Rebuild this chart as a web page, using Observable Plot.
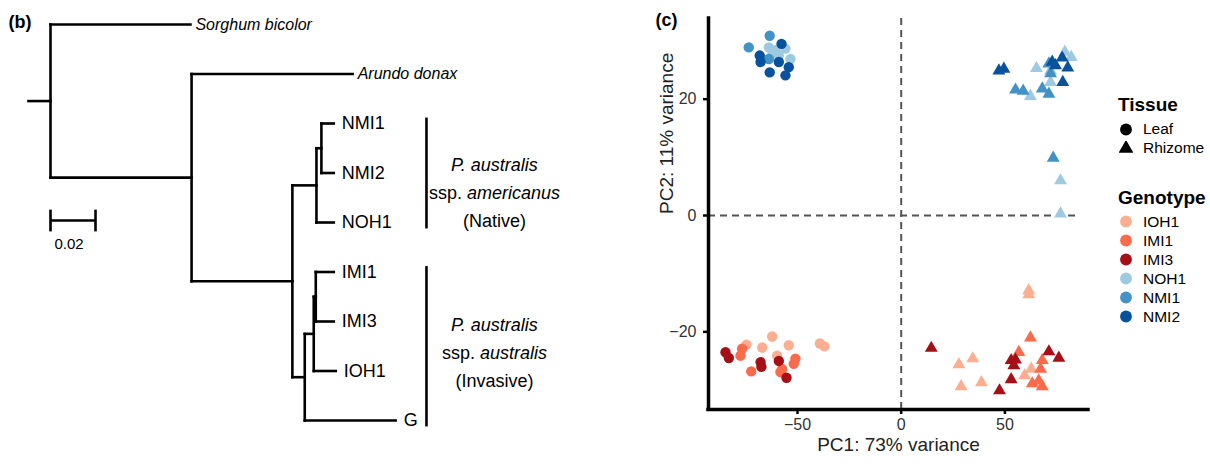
<!DOCTYPE html>
<html><head><meta charset="utf-8">
<script src="https://cdn.jsdelivr.net/npm/d3@7"></script>
<script src="https://cdn.jsdelivr.net/npm/@observablehq/plot@0.6"></script>
<style>
body{margin:0;background:#fff;font-family:"Liberation Sans",Arial,sans-serif;}
#wrap{position:relative;width:1210px;height:464px;overflow:hidden;background:#fff;}
#tree{position:absolute;left:0;top:0;}
#pca{position:absolute;left:640px;top:0;}
#legend{position:absolute;left:1118px;top:90px;color:#000;}
.lt{font-weight:bold;font-size:19px;height:29px;line-height:29px;}
.lr{height:19px;line-height:19px;font-size:15.5px;display:flex;align-items:center;}
.lr svg{margin-right:10px;margin-left:1px;}
.gap{height:25.5px;}
</style></head><body>
<div id="wrap"><div id="tree"></div><div id="pca"></div><div id="legend"></div></div>
<script>
// ---------- Panel (b): phylogenetic tree ----------
const nodeIds      = ["root","Sorghum bicolor","A","Arundo donax","Phrag","Native","NMI12","NMI1","NMI2","NOH1","Inv","InvA","IMI13","IMI1","IMI3","IOH1","G"];
const nodeParents  = [null,"root","root","A","A","Phrag","Native","NMI12","NMI12","Native","Phrag","Inv","InvA","IMI13","IMI13","InvA","Inv"];
const branchLengths= [0.0098,0.0622,0.0627,0.0716,0.0448,0.0107,0.0022,0.0055,0.0055,0.0077,0.0055,0.0040,0.0009,0.0080,0.0080,0.0098,0.0404];
const italicTips   = ["Sorghum bicolor","Arundo donax"];
const cladeLabels  = ["P. australis\nssp. americanus\n(Native)","P. australis\nssp. australis\n(Invasive)"];
const cladeFirstTip= ["NMI1","IMI1"];
const cladeLastTip = ["NOH1","G"];
const cladeLabelY  = [3.34, 6.58];
const scaleBarLength = 0.02;
const scaleBarLabel = "0.02";

// ---------- Panel (c): PCA ----------
const genotypes = ["IOH1","IMI1","IMI3","NOH1","NMI1","NMI2"];
const genotypeColors = ["#fcae91","#fb6a4a","#a50f15","#9ecae1","#4292c6","#08519c"];
const tissues = ["Leaf","Rhizome"];
const xTicks = [-50,0,50];
const yTicks = [-20,0,20];
const pc1Label = "PC1: 73% variance";
const pc2Label = "PC2: 11% variance";

const leaf_IOH1 = [[-74.6,-22.2],[-67,-22.7],[-62.2,-20.8],[-59.8,-24.1],[-54.2,-22.3],[-39.2,-22],[-37,-22.5]];
const leaf_IMI1 = [[-76.7,-22.9],[-77.5,-24.1],[-72.3,-26.8],[-58.2,-26.9],[-57.4,-26.4],[-51,-24.6],[-51.8,-25.5]];
const leaf_IMI3 = [[-84.7,-23.5],[-83.1,-24.5],[-67.8,-25.2],[-67.4,-26],[-59,-25],[-55.3,-27.9]];
const leaf_NOH1 = [[-63.8,28.9],[-60.6,28.4],[-55.8,28.7],[-53.4,26.9],[-59,27.5],[-62,28]];
const leaf_NMI1 = [[-73.5,28.9],[-63.4,30.9],[-63.8,26.9]];
const leaf_NMI2 = [[-68.2,27.5],[-67.8,26.4],[-63.4,24.6],[-57.7,29.5],[-55.8,24.1],[-54.2,25.5],[-59,26.4]];
const rhizome_IOH1 = [[61.5,-12.9],[61.5,-13.6],[27.8,-25.6],[34.5,-24.6],[28.9,-29.4],[38.7,-28.7],[59.5,-27.5],[62.7,-26.4]];
const rhizome_IMI1 = [[62.3,-21],[56.7,-23.5],[68,-24.9],[67.2,-26.4],[63.2,-28.9],[66.3,-28.4],[68,-29.4]];
const rhizome_IMI3 = [[14.5,-22.8],[47.4,-30.1],[53,-28.2],[53,-24.9],[55.1,-24.8],[54.3,-25.8],[71.2,-23.4],[76,-24.5]];
const rhizome_NOH1 = [[65.2,25.3],[62.3,20.5],[72,22.9],[78.9,28.1],[82,27.2],[76.8,6.0],[76.8,0.3],[72,24.9]];
const rhizome_NMI1 = [[55.1,21.6],[58.8,21.4],[68,21.8],[71.2,20.9],[71.2,26.1],[72,24.4],[73.3,9.9]];
const rhizome_NMI2 = [[47.1,24.9],[49.5,25.2],[72.8,26.4],[74.4,25.8],[80.3,25.4],[77.9,22.9],[77.6,27.1]];

const FONT = '"Liberation Sans", Arial, sans-serif';

// ---- build tree layout from the arrays ----
const root = d3.stratify().id(d => d.id).parentId(d => d.parent)(
  nodeIds.map((id, i) => ({id, parent: nodeParents[i], bl: branchLengths[i]})));
root.eachBefore(n => { n.bx = n.parent ? n.parent.bx + n.data.bl : 0; });
root.leaves().forEach((n, i) => { n.by = i; });
root.eachAfter(n => { if (n.children) n.by = (n.children[0].by + n.children[n.children.length - 1].by) / 2; });
const segs = [];
root.each(n => {
  segs.push({x1: n.parent ? n.parent.bx : -n.data.bl, x2: n.bx, y1: n.by, y2: n.by});
  if (n.children) segs.push({x1: n.bx, x2: n.bx, y1: n.children[0].by, y2: n.children[n.children.length - 1].by});
});
const tips = root.leaves().map(n => ({name: n.id, x: n.bx, y: n.by, italic: italicTips.includes(n.id)}));
const tipY = Object.fromEntries(tips.map(t => [t.name, t.y]));
const bracketX = 0.1671, cladeTextX = 0.1973, bracketPad = 0.12;
const clades = cladeLabels.map((label, i) => ({
  label, y1: tipY[cladeFirstTip[i]] - bracketPad, y2: tipY[cladeLastTip[i]] + bracketPad, ly: cladeLabelY[i]}));
const scaleBarY = 3.96;
const sb = [{x1: 0, x2: scaleBarLength, y1: scaleBarY, y2: scaleBarY},
            {x1: 0, x2: 0, y1: scaleBarY - 0.22, y2: scaleBarY + 0.22},
            {x1: scaleBarLength, x2: scaleBarLength, y1: scaleBarY - 0.22, y2: scaleBarY + 0.22}];

const tree = Plot.plot({
  width: 640, height: 464, margin: 0,
  style: {fontFamily: FONT, color: "#000", background: "transparent"},
  x: {domain: [0, 0.2], range: [50, 500], axis: null},
  y: {domain: [0, 8], range: [24, 420], axis: null},
  marks: [
    Plot.link(segs, {x1: "x1", x2: "x2", y1: "y1", y2: "y2", stroke: "#000", strokeWidth: 2.6, strokeLinecap: "square"}),
    Plot.text(tips.filter(t => t.italic), {x: "x", y: "y", text: "name", textAnchor: "start", dx: 5, fontSize: 16, fontStyle: "italic", fill: "#000"}),
    Plot.text(tips.filter(t => !t.italic), {x: "x", y: "y", text: "name", textAnchor: "start", dx: 8, fontSize: 18, fill: "#000"}),
    Plot.link(clades, {x1: bracketX, x2: bracketX, y1: "y1", y2: "y2", stroke: "#000", strokeWidth: 2.6}),
    Plot.text(clades, {x: cladeTextX, y: "ly", text: "label", fontSize: 18, lineHeight: 1.56, fill: "#000"}),
    Plot.link(sb, {x1: "x1", x2: "x2", y1: "y1", y2: "y2", stroke: "#000", strokeWidth: 2.6}),
    Plot.text([scaleBarLabel], {x: scaleBarLength / 2, y: scaleBarY + 0.47, text: d => d, fontSize: 15, dx: -4, fill: "#000"}),
    Plot.text(["(b)"], {frameAnchor: "top-left", dx: 8, dy: 22, text: d => d, textAnchor: "start", lineAnchor: "middle", fontSize: 18, fontWeight: "bold", fill: "#000"})
  ]
});
// italic parts of clade labels
tree.querySelectorAll("tspan").forEach(ts => {
  const t = ts.textContent;
  if (t.startsWith("P. ")) ts.setAttribute("font-style", "italic");
  else if (t.startsWith("ssp. ")) {
    ts.textContent = "ssp. ";
    const it = document.createElementNS("http://www.w3.org/2000/svg", "tspan");
    it.setAttribute("font-style", "italic");
    it.textContent = t.slice(5);
    ts.appendChild(it);
  }
});
document.getElementById("tree").appendChild(tree);

// ---- PCA points ----
const groups = {
  Leaf: {IOH1: leaf_IOH1, IMI1: leaf_IMI1, IMI3: leaf_IMI3, NOH1: leaf_NOH1, NMI1: leaf_NMI1, NMI2: leaf_NMI2},
  Rhizome: {IOH1: rhizome_IOH1, IMI1: rhizome_IMI1, IMI3: rhizome_IMI3, NOH1: rhizome_NOH1, NMI1: rhizome_NMI1, NMI2: rhizome_NMI2}
};
const points = [];
for (const tissue of tissues) for (const g of genotypes)
  for (const [pc1, pc2] of groups[tissue][g]) points.push({pc1, pc2, genotype: g, tissue});

const xDomain = [-92.9, 90.3], yDomain = [-33.35, 33.87];
const pca = Plot.plot({
  width: 570, height: 464, marginLeft: 68, marginRight: 122, marginTop: 18, marginBottom: 55,
  style: {fontFamily: FONT, color: "#000", background: "transparent"},
  x: {domain: xDomain},
  y: {domain: yDomain},
  color: {domain: genotypes, range: genotypeColors},
  symbol: {domain: tissues, range: ["circle", "triangle"]},
  marks: [
    Plot.ruleY([0], {x1: xDomain[0], x2: 85, stroke: "#555", strokeWidth: 2, strokeDasharray: "7,5"}),
    Plot.ruleX([0], {stroke: "#555", strokeWidth: 2, strokeDasharray: "7,5"}),
    Plot.dot(points.filter(d => d.tissue === "Leaf"), {x: "pc1", y: "pc2", fill: "genotype", symbol: "tissue", r: 5.2}),
    Plot.dot(points.filter(d => d.tissue === "Rhizome"), {x: "pc1", y: "pc2", fill: "genotype", symbol: "tissue", r: 4.8}),
    Plot.ruleX([xDomain[0]], {stroke: "#000", strokeWidth: 3.5, strokeLinecap: "square"}),
    Plot.ruleY([yDomain[0]], {stroke: "#000", strokeWidth: 3.5, strokeLinecap: "square"}),
    Plot.axisX({ticks: xTicks, tickSize: 5, tickPadding: 4, strokeWidth: 2.5, stroke: "#000", fill: "#333", fontSize: 16, label: null}),
    Plot.axisY({ticks: yTicks, tickSize: 5, tickPadding: 7, strokeWidth: 2.5, stroke: "#000", fill: "#333", fontSize: 16, label: null}),
    Plot.text([pc1Label], {frameAnchor: "bottom", dy: 41, text: d => d, fontSize: 19, fill: "#222"}),
    Plot.text([pc2Label], {frameAnchor: "left", dx: -42, rotate: -90, text: d => d, fontSize: 19, fill: "#222"}),
    Plot.text(["(c)"], {frameAnchor: "top-left", dx: -53, dy: 2, text: d => d, textAnchor: "start", lineAnchor: "middle", fontSize: 18, fontWeight: "bold", fill: "#000"})
  ]
});
document.getElementById("pca").appendChild(pca);

// ---- legend (HTML) ----
const legend = d3.select("#legend");
function swatch(sel, shape, color) {
  const s = sel.append("svg").attr("width", 14).attr("height", 14);
  s.append("path").attr("transform", "translate(7,7.5)")
    .attr("d", d3.symbol(shape === "triangle" ? d3.symbolTriangle : d3.symbolCircle, shape === "triangle" ? 95 : 110)())
    .attr("fill", color);
}
legend.append("div").attr("class", "lt").text("Tissue");
tissues.forEach((t, i) => {
  const r = legend.append("div").attr("class", "lr");
  swatch(r, i === 0 ? "circle" : "triangle", "#000");
  r.append("span").text(t);
});
legend.append("div").attr("class", "gap");
legend.append("div").attr("class", "lt").text("Genotype");
genotypes.forEach((g, i) => {
  const r = legend.append("div").attr("class", "lr");
  swatch(r, "circle", genotypeColors[i]);
  r.append("span").text(g);
});
</script>
</body></html>
